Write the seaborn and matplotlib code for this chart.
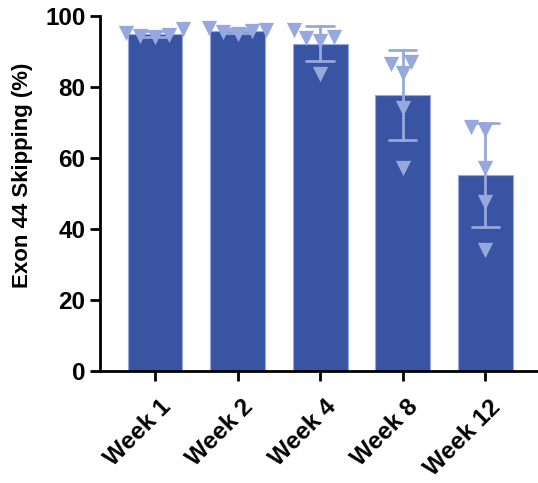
import pandas as pd
import matplotlib
matplotlib.use('Agg')
import matplotlib.pyplot as plt
import matplotlib.transforms as mtransforms
import seaborn as sns

# Exon 44 skipping (%) per animal
weeks = ['Week 1', 'Week 2', 'Week 4', 'Week 8', 'Week 12']
week1 = [94.7, 96.4, 94.5, 95.2, 94.2]
week2 = [95.6, 96.6, 95.8, 96.1, 94.9]
week4 = [96.1, 93.8, 94.2, 93.0, 83.6]
week8 = [87.1, 83.9, 86.4, 74.2, 57.1]
week12 = [68.8, 67.9, 57.2, 47.6, 34.0]
y_ticks = [0, 20, 40, 60, 80, 100]

bar_color = '#3A54A4'
point_color = '#97A8DE'

# Build long table for seaborn
values = [week1, week2, week4, week8, week12]
df = pd.DataFrame({
    'week': [w for w, v in zip(weeks, values) for _ in v],
    'skip': [x for v in values for x in v],
})

sns.set_style('ticks')
plt.rcParams['font.family'] = ['Liberation Sans', 'DejaVu Sans']
plt.rcParams['font.weight'] = 'bold'
for key in ['text.color', 'axes.labelcolor', 'xtick.color', 'ytick.color',
            'axes.edgecolor']:
    plt.rcParams[key] = 'black'

fig = plt.figure(figsize=(5.38, 4.83), dpi=100)
ax = fig.add_axes([0.1859, 0.2319, 0.8141, 0.735])

# Bars with mean +/- SD
sns.barplot(data=df, x='week', y='skip', order=weeks, color=bar_color,
            saturation=1, width=0.666, errorbar='sd', capsize=0.33,
            edgecolor=point_color, linewidth=0.8,
            err_kws={'color': point_color, 'linewidth': 2}, ax=ax)

# Individual animals
sns.swarmplot(data=df, x='week', y='skip', order=weeks, color=point_color,
              marker='v', size=10, linewidth=0, ax=ax, clip_on=False)

# Axes styling
ax.set_ylim(0, 100)
ax.set_xlim(-0.666, 4.64)
ax.set_yticks(y_ticks)
ax.set_xlabel('')
ax.set_ylabel('Exon 44 Skipping (%)', fontsize=16, fontweight='bold')
ax.yaxis.set_label_coords(-0.153, 0.552)
ax.tick_params(axis='both', length=7.5, width=2, labelsize=17.5, pad=3)
ax.tick_params(axis='x', pad=10)
shift = mtransforms.ScaledTranslation(4 / 100, 0, fig.dpi_scale_trans)
for lab in ax.get_xticklabels():
    lab.set_rotation(45)
    lab.set_ha('right')
    lab.set_va('top')
    lab.set_rotation_mode('anchor')
    lab.set_fontweight('bold')
    lab.set_transform(lab.get_transform() + shift)
plt.setp(ax.get_yticklabels(), fontweight='bold')
for side in ['left', 'bottom']:
    ax.spines[side].set_linewidth(2)
sns.despine(ax=ax)

# Freeze the swarm layout, then draw the triangles a bit bigger
fig.canvas.draw()
for coll in ax.collections:
    if 'draw' in coll.__dict__:
        del coll.draw
    coll.set_sizes([11 ** 2])

fig.savefig('out.png', dpi=100)
